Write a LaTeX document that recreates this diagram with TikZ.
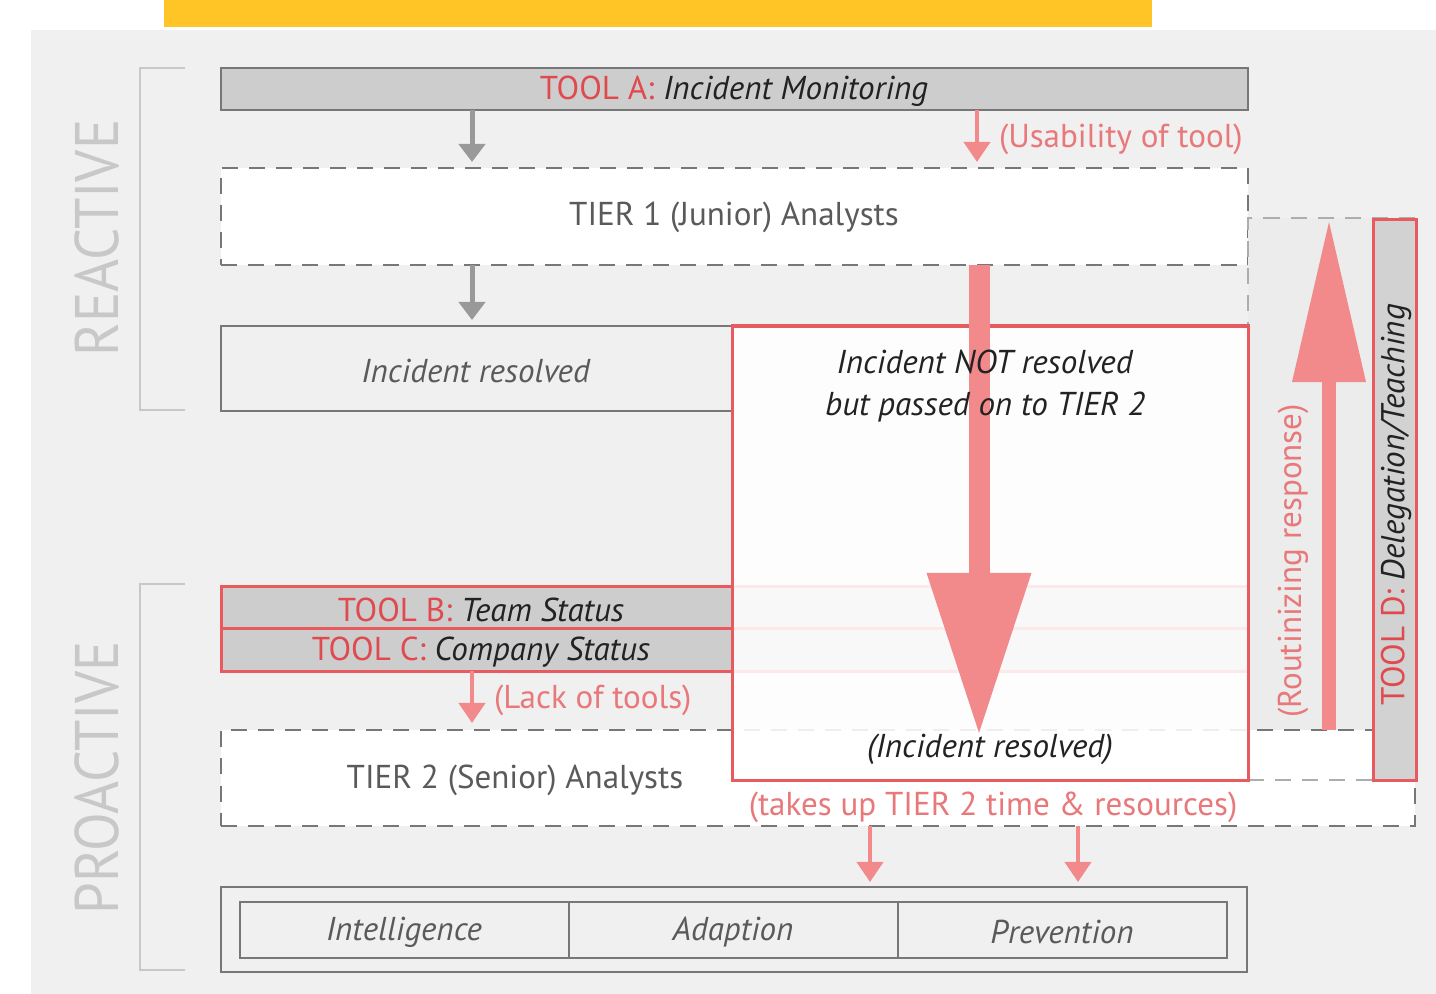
\documentclass[tikz,border=0pt]{standalone}
\usepackage{fontspec}
\setmainfont{PT Sans}
\usetikzlibrary{arrows.meta,positioning}
\definecolor{bgcol}{HTML}{F0F0F0}
\definecolor{yelcol}{HTML}{FFC425}
\definecolor{bline}{HTML}{777777}
\definecolor{tfill}{HTML}{CDCDCD}
\definecolor{tgray}{HTML}{5A5A5A}
\definecolor{tdark}{HTML}{222222}
\definecolor{tred}{HTML}{E04A4E}
\definecolor{lred}{HTML}{E8787A}
\definecolor{rline}{HTML}{E85A5E}
\definecolor{rarr}{HTML}{F28A8C}
\definecolor{garr}{HTML}{999999}
\definecolor{brk}{HTML}{C8C8C8}
\definecolor{regfill}{HTML}{ECECEC}
% box from its corners (in pixels): style, name, x1, y1, x2, y2, text
\newcommand{\pxbox}[7]{
    \node[#1, anchor=north west, minimum width={(#5-#3)*0.01cm},
        minimum height={(#6-#4)*0.01cm}] (#2) at (#3,#4) {#7};
}
\newcommand{\tool}[2]{{\color{tred}#1:} \textit{\color{tdark}#2}}

\begin{document}
\begin{tikzpicture}[x=0.01cm, y=-0.01cm,
    txt/.style={font=\fontsize{9.4}{11.9}\selectfont, inner sep=0pt},
    box/.style={txt, draw=bline, line width=0.02cm, outer sep=0pt, text=tgray},
    toolbox/.style={box, fill=tfill, text=tdark},
    dashbox/.style={box, fill=white, dash pattern=on 0.16cm off 0.11cm},
    redbox/.style={toolbox, draw=rline, line width=0.03cm},
    side/.style={font=\fontsize{17.5}{17.5}\selectfont, text=brk, rotate=90, inner sep=0pt},
    rlab/.style={txt, text=lred},
    garrow/.style={draw=garr, line width=0.05cm, -{Triangle[width=0.26cm,length=0.18cm]}},
    rarrow/.style={draw=rarr, line width=0.04cm, -{Triangle[width=0.26cm,length=0.2cm]}},
    bigarrow/.style={draw=rarr, -{Triangle[width=#1, length=1.6cm, line width=0pt]}},
]
    \useasboundingbox (0,0) rectangle (1436,994);
    \fill[white] (0,0) rectangle (1436,994);
    \fill[bgcol] (31,30) rectangle (1436,994);
    \fill[yelcol] (164,0) rectangle (1152,27);

    % reactive / proactive brackets
    \draw[brk, line width=0.02cm] (185,68) -- (140,68) -- (140,410) -- (185,410);
    \draw[brk, line width=0.02cm] (185,584) -- (140,584) -- (140,970) -- (185,970);
    \node[side] (react) at (97,238) {\scalebox{0.92}[1]{REACTIVE}};
    \node[side] (proact) at (97,778) {\scalebox{0.92}[1]{PROACTIVE}};

    % reactive part
    \pxbox{toolbox}{toolA}{221}{68}{1248}{110}{}
    \node[txt] (toolAtxt) at (734,91) {\tool{TOOL A}{Incident Monitoring}};
    \pxbox{dashbox}{tier1}{221}{168}{1248}{265}{}
    \node[txt, text=tgray] (tier1txt) at (734,217) {TIER 1 (Junior) Analysts};
    \fill[regfill] (1248,218) rectangle (1415,730);
    \pxbox{box}{solved}{221}{326}{732}{411}{}
    \node[txt, text=tgray] (solvedtxt) at (476,371) {\textit{Incident resolved}};

    % proactive part
    \pxbox{redbox}{toolB}{221}{586}{1248}{628}{}
    \pxbox{redbox}{toolC}{221}{628}{1248}{671}{}
    \node[txt] (toolBtxt) at (481,610) {\tool{TOOL B}{Team Status}};
    \node[txt] (toolCtxt) at (481,652) {\tool{TOOL C}{Company Status}};
    \pxbox{dashbox}{tier2}{221}{730}{1415}{826}{}
    \node[txt, text=tgray] (tier2txt) at (515,780) {TIER 2 (Senior) Analysts};
    \pxbox{box, draw=bline!60, dash pattern=on 0.16cm off 0.11cm}{routreg}{1248}{218}{1415}{780}{}

    % escalated incidents
    \pxbox{box, draw=rline, line width=0.03cm, fill=white, fill opacity=0.88}{passed}{732}{326}{1248}{780}{}
    \node[txt, text=tdark] (ires) at (990,749) {\textit{(Incident resolved)}};
    \coordinate (na) at (979,0);
    \draw[bigarrow=1.05cm, line width=0.21cm]
        (tier1.south -| na) -- (ires.north -| na);
    \node[txt, text=tdark, align=center] (passtxt) at (985,386) {\textit{Incident NOT resolved}\\ \textit{but passed on to TIER 2}};
    \node[rlab] (cost) at (993,807) {(takes up TIER 2 time \& resources)};

    % outcome
    \pxbox{box}{outcome}{221}{887}{1247}{972}{}
    \foreach \x/\lbl [count=\i] in {240/Intelligence, 569/Adaption, 898/Prevention} {
        \pxbox{box}{out\i}{\x}{902}{\x+329}{958}{}
        \node[txt, text=tgray] (out\i txt) at (\x+164,932) {\textit{\lbl}};
    }

    \pxbox{redbox, fill=tfill!90}{toolD}{1373}{220}{1416}{780}{}
    \node[txt, rotate=90] (toolDtxt) at (1396,505) {\tool{TOOL D}{Delegation/Teaching}};

    % arrows
    \coordinate (ga) at (472,0);
    \coordinate (ua) at (977,0);
    \coordinate (ra) at (1329,0);
    \draw[garrow, shorten >=0.06cm] (toolA.south -| ga) -- (tier1.north -| ga);
    \draw[garrow, shorten >=0.06cm] (tier1.south -| ga) -- (solved.north -| ga);
    \draw[rarrow, shorten >=0.06cm] (toolA.south -| ua)
        -- node[rlab, right=0.2cm] (usab) {(Usability of tool)} (tier1.north -| ua);
    \draw[rarrow, shorten >=0.07cm] (toolC.south -| ga)
        -- node[rlab, right=0.2cm] (lack) {(Lack of tools)} (tier2.north -| ga);
    \draw[bigarrow=0.74cm, line width=0.14cm, shorten >=0.04cm]
        (tier2.north -| ra) -- node[rlab, sloped, above=0.135cm, pos=0.33] (rout) {(Routinizing response)} (routreg.north -| ra);
    \foreach \x in {870, 1078} {
        \draw[rarrow, shorten >=0.05cm] (tier2.south -| \x,0) -- (outcome.north -| \x,0);
    }
\end{tikzpicture}
\end{document}
